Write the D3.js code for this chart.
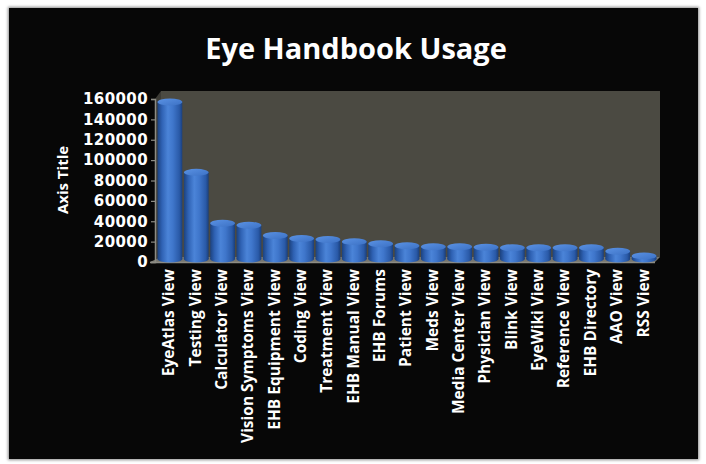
<!DOCTYPE html>
<html>
<head>
<meta charset="utf-8">
<script src="https://cdn.jsdelivr.net/npm/d3@7"></script>
<style>
  html, body { margin: 0; padding: 0; background: #ffffff; }
  svg { display: block; }
</style>
</head>
<body>
<svg id="chart" width="706" height="464"></svg>
<script>
const categories = ["EyeAtlas View","Testing View","Calculator View","Vision Symptoms View","EHB Equipment View","Coding View","Treatment View","EHB Manual View","EHB Forums","Patient View","Meds View","Media Center View","Physician View","Blink View","EyeWiki View","Reference View","EHB Directory","AAO View","RSS View"];
const values = [157000, 88000, 38000, 36000, 26000, 23000, 22000, 20000, 18000, 16000, 15000, 15000, 14500, 14000, 14000, 14000, 14000, 10500, 6000];
const yTicks = [0, 20000, 40000, 60000, 80000, 100000, 120000, 140000, 160000];
const chartTitle = "Eye Handbook Usage";
const yAxisTitle = "Axis Title";

const svg = d3.select("#chart");
const defs = svg.append("defs");

// panel shadow + black background
const sh = defs.append("filter").attr("id", "shadow").attr("x", "-5%").attr("y", "-5%").attr("width", "110%").attr("height", "110%");
sh.append("feGaussianBlur").attr("stdDeviation", 1.5);
svg.append("rect").attr("x", 8).attr("y", 7).attr("width", 691).attr("height", 453).attr("fill", "#8a8a8a").attr("filter", "url(#shadow)");
svg.append("rect").attr("x", 9).attr("y", 8).attr("width", 689).attr("height", 451).attr("fill", "#070707");

const y = d3.scaleLinear().domain([0, 160000]).range([262, 99]);
const x = d3.scaleBand().domain(categories).range([157, 657]).paddingInner(0.06).paddingOuter(0.02);
const dx = 6, dy = 8; // 3D depth offset

// back wall
const y0 = y(0), yTop = y(160000);
svg.append("polygon")
  .attr("points", [[155 + dx, yTop - dy], [660, yTop - dy], [660, y0 - dy + 3], [155 + dx, y0 - dy + 3]].map(p => p.join(",")).join(" "))
  .attr("fill", "#4b4a42");
// side wall
svg.append("polygon")
  .attr("points", [[155, yTop], [155 + dx, yTop - dy], [155 + dx, y0 - dy + 3], [155, y0]].map(p => p.join(",")).join(" "))
  .attr("fill", "#3c3b35");
// floor
svg.append("polygon")
  .attr("points", [[150, y0], [655, y0], [660, y0 - 5], [155 + dx, y0 - 5]].map(p => p.join(",")).join(" "))
  .attr("fill", "#77766e");
svg.append("line").attr("x1", 150).attr("x2", 655).attr("y1", y0 + 0.5).attr("y2", y0 + 0.5)
  .attr("stroke", "#8d8c84").attr("stroke-width", 1.5);

// y axis
const yAxis = d3.axisLeft(y).tickValues(yTicks).tickSize(4).tickFormat(d3.format("d"));
const gy = svg.append("g").attr("transform", "translate(155,0)").call(yAxis);
gy.select(".domain").attr("stroke", "#8d8c84").attr("stroke-width", 1.5);
gy.selectAll(".tick line").attr("stroke", "#8d8c84").attr("stroke-width", 1.2);
gy.selectAll(".tick text")
  .attr("x", -7)
  .attr("fill", "#ffffff")
  .attr("font-family", "'DejaVu Sans', sans-serif")
  .attr("font-weight", "700")
  .attr("font-size", "15px")
  .attr("letter-spacing", "0.4px");

// gradients
const side = defs.append("linearGradient").attr("id", "cyl").attr("x1", "0").attr("x2", "1").attr("y1", "0").attr("y2", "0");
[[0, "#1c427f"], [0.18, "#2f62b4"], [0.42, "#4b84d8"], [0.62, "#3f76cb"], [0.88, "#2a5aa8"], [1, "#1a3f7c"]]
  .forEach(s => side.append("stop").attr("offset", s[0]).attr("stop-color", s[1]));
const topG = defs.append("linearGradient").attr("id", "cyltop").attr("x1", "0").attr("x2", "1").attr("y1", "0").attr("y2", "1");
[[0, "#5a92e4"], [1, "#3c71c4"]].forEach(s => topG.append("stop").attr("offset", s[0]).attr("stop-color", s[1]));

// bars
const bw = x.bandwidth();
const ry = 3.5;
const bars = svg.append("g").selectAll("g").data(categories).join("g");
bars.append("ellipse")
  .attr("cx", d => x(d) + bw / 2).attr("cy", y0 - 3).attr("rx", bw / 2).attr("ry", ry)
  .attr("fill", "url(#cyl)");
bars.append("rect")
  .attr("x", d => x(d)).attr("width", bw)
  .attr("y", (d, i) => y(values[i]))
  .attr("height", (d, i) => (y0 - 3) - y(values[i]))
  .attr("fill", "url(#cyl)");
bars.append("ellipse")
  .attr("cx", d => x(d) + bw / 2).attr("cy", (d, i) => y(values[i])).attr("rx", bw / 2).attr("ry", ry)
  .attr("fill", "url(#cyltop)");

// x labels
const xAxis = d3.axisBottom(x).tickSize(0);
const gx = svg.append("g").attr("transform", `translate(0,${y0})`).call(xAxis);
gx.select(".domain").remove();
gx.selectAll(".tick text")
  .attr("transform", "rotate(-90)")
  .attr("text-anchor", "end")
  .attr("x", -7).attr("y", -1).attr("dy", "0.35em")
  .attr("fill", "#ffffff")
  .attr("font-family", "'Open Sans', sans-serif")
  .attr("font-weight", "700")
  .attr("font-size", "15.5px");

// title
svg.append("text")
  .attr("x", 356).attr("y", 59)
  .attr("text-anchor", "middle")
  .attr("fill", "#ffffff")
  .attr("font-family", "'Open Sans', sans-serif")
  .attr("font-weight", "700")
  .attr("font-size", "29px")
  .text(chartTitle);

// y axis title
svg.append("text")
  .attr("transform", "translate(63,180) rotate(-90)")
  .attr("text-anchor", "middle")
  .attr("dy", "0.35em")
  .attr("fill", "#ffffff")
  .attr("font-family", "'Open Sans', sans-serif")
  .attr("font-weight", "700")
  .attr("font-size", "15px")
  .text(yAxisTitle);
</script>
</body>
</html>
